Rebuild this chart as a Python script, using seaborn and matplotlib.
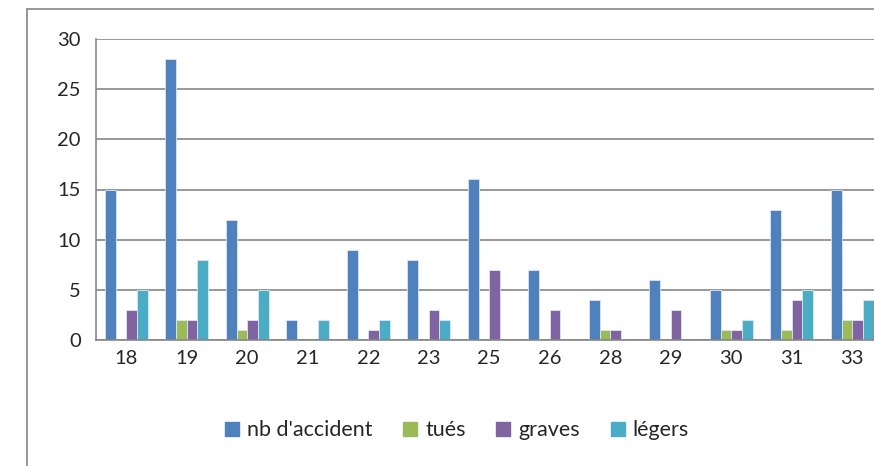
import pandas as pd
import seaborn as sns
import matplotlib.pyplot as plt
from matplotlib.lines import Line2D

# donnees
zones = ['18', '19', '20', '21', '22', '23', '25', '26', '28', '29', '30', '31', '33']
nb_accident = [15, 28, 12, 2, 9, 8, 16, 7, 4, 6, 5, 13, 15]
tues = [0, 2, 1, 0, 0, 0, 0, 0, 1, 0, 1, 1, 2]
graves = [3, 2, 2, 0, 1, 3, 7, 3, 1, 3, 1, 4, 2]
legers = [5, 8, 5, 2, 2, 2, 0, 0, 0, 0, 2, 5, 4]
series = ["nb d'accident", 'tués', 'graves', 'légers']
couleurs = ['#4F81BD', '#9BBB59', '#8064A2', '#4BACC6']

df = pd.DataFrame({'zone': zones, series[0]: nb_accident, series[1]: tues,
                   series[2]: graves, series[3]: legers})
df = df.melt(id_vars='zone', var_name='serie', value_name='valeur')

sns.set_style('white')
plt.rcParams['font.family'] = ['Lato', 'DejaVu Sans']

fig = plt.figure(figsize=(8.74, 4.66), dpi=100)
ax = fig.add_axes([96/874, 1-340/466, 786.5/874, 301/466])

sns.barplot(data=df, x='zone', y='valeur', hue='serie', order=zones, hue_order=series,
            palette=couleurs, width=0.71, gap=0, saturation=1, ax=ax, legend=False,
            edgecolor='#dde6f0', linewidth=0.6)

gris = '#868686'
ax.set_ylim(0, 30)
ax.set_xlim(-0.5, len(zones) - 0.5)
ax.set_yticks(range(0, 31, 5))
ax.grid(axis='y', color=gris, linewidth=1.2)
ax.set_axisbelow(True)
ax.set_xlabel('')
ax.set_ylabel('')
for s in ['top', 'right']:
    ax.spines[s].set_visible(False)
for s in ['left', 'bottom']:
    ax.spines[s].set_color(gris)
    ax.spines[s].set_linewidth(1.2)
ax.set_xticks([i - 0.5 for i in range(len(zones) + 1)], minor=True)
ax.tick_params(axis='x', which='major', length=0, labelsize=14.5, pad=7)
ax.tick_params(axis='x', which='minor', length=6, color=gris, width=1.2)
ax.tick_params(axis='y', length=6, color=gris, width=1.2, labelsize=14.5, pad=5)

# legende
poignees = [Line2D([], [], marker='s', linestyle='', markersize=9.4, color=c) for c in couleurs]
fig.legend(poignees, series, loc='center', bbox_to_anchor=(0.522, 0.077), ncol=4,
           frameon=False, fontsize=15.5, handletextpad=0.3, columnspacing=1.35,
           handlelength=0.8)

# cadre du graphique
fig.add_artist(Line2D([27/874, 27/874], [0, 1-9/466], color=gris, linewidth=1.2))
fig.add_artist(Line2D([27/874, 1], [1-9/466, 1-9/466], color=gris, linewidth=1.2))

fig.savefig('out.png', dpi=100)
